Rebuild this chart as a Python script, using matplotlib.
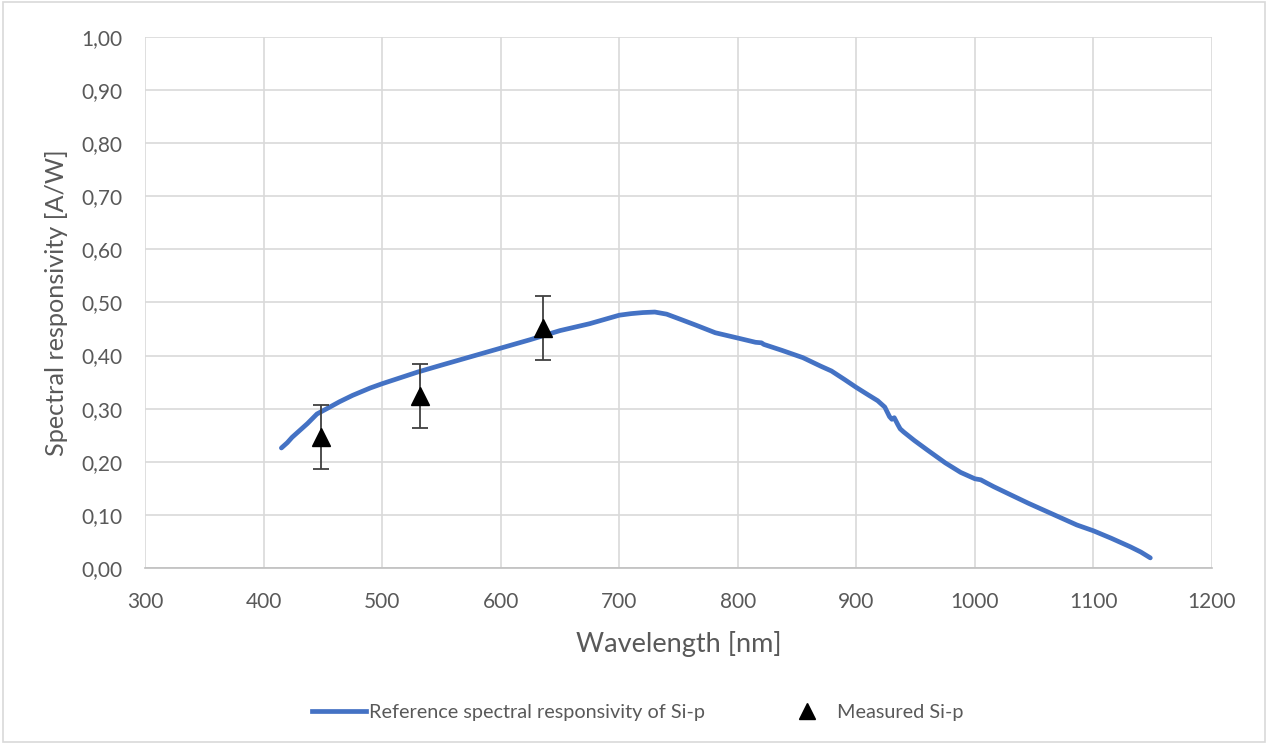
import matplotlib.pyplot as plt
import matplotlib.patches as patches
from matplotlib.lines import Line2D
from matplotlib.ticker import FuncFormatter

plt.rcParams['font.family'] = ['Lato', 'DejaVu Sans']

# reference curve
wl_ref = [415, 420, 424, 430, 437, 445, 455, 464, 475, 490, 500, 515, 530, 550,
          575, 600, 625, 650, 675, 700, 710, 720, 730, 740, 752, 765, 781, 800,
          815, 820, 822, 837, 855, 870, 879, 890, 900, 910, 918, 924, 928, 930,
          932, 935, 937, 940, 949, 960, 975, 988, 1000, 1005, 1010, 1016, 1030,
          1045, 1058, 1072, 1086, 1100, 1115, 1131, 1140, 1148]
resp_ref = [0.226, 0.236, 0.246, 0.258, 0.272, 0.290, 0.302, 0.313, 0.325, 0.339,
            0.347, 0.358, 0.369, 0.382, 0.398, 0.414, 0.430, 0.447, 0.460, 0.476,
            0.479, 0.481, 0.482, 0.478, 0.468, 0.457, 0.443, 0.433, 0.425, 0.424,
            0.421, 0.410, 0.396, 0.380, 0.371, 0.355, 0.340, 0.326, 0.315, 0.303,
            0.285, 0.280, 0.283, 0.270, 0.262, 0.256, 0.240, 0.222, 0.198, 0.180,
            0.168, 0.166, 0.160, 0.153, 0.138, 0.122, 0.109, 0.095, 0.081, 0.070,
            0.056, 0.040, 0.030, 0.019]

# measured points
wl_meas = [448, 532, 636]
resp_meas = [0.247, 0.324, 0.452]
err_meas = [0.06, 0.06, 0.06]

fig = plt.figure(figsize=(12.68, 7.44), dpi=100)
ax = fig.add_axes([0.1144, 0.2366, 0.8414, 0.7137])

ax.plot(wl_ref, resp_ref, color='#4472C4', linewidth=3.4, solid_capstyle='round',
        solid_joinstyle='round', zorder=3)
ax.errorbar(wl_meas, resp_meas, yerr=err_meas, fmt='^', color='black',
            markersize=13, ecolor='#404040', elinewidth=1.3, capsize=6,
            capthick=1.3, zorder=4)

ax.set_xlim(300, 1200)
ax.set_ylim(0, 1.0)
ax.set_xticks(range(300, 1201, 100))
ax.set_yticks([i / 10 for i in range(11)])
ax.yaxis.set_major_formatter(FuncFormatter(lambda v, p: f'{v:.2f}'.replace('.', ',')))
ax.grid(True, color='#d9d9d9', linewidth=1.2)
ax.set_axisbelow(True)
for s in ['top', 'right', 'left']:
    ax.spines[s].set_visible(False)
ax.spines['bottom'].set_color('#bfbfbf')
ax.spines['bottom'].set_linewidth(1.2)
ax.tick_params(axis='y', length=0, labelsize=15, colors='#595959', pad=16)
ax.tick_params(axis='x', length=0, labelsize=15, colors='#595959', pad=17)

ax.set_xlabel('Wavelength [nm]', fontsize=19.5, color='#595959')
ax.xaxis.set_label_coords(0.5, -0.118)
ax.set_ylabel('Spectral responsivity [A/W]', fontsize=18.2, color='#595959')
ax.yaxis.set_label_coords(-0.072, 0.5)

handles = [Line2D([], [], color='#4472C4', linewidth=3.4),
           Line2D([], [], marker='^', linestyle='none', color='black', markersize=11)]
labels = ['Reference spectral responsivity of Si-p', 'Measured Si-p']
leg = fig.legend(handles, labels, loc='center', bbox_to_anchor=(0.503, 0.043), ncol=2,
                 frameon=False, fontsize=14.3, handlelength=2.7, columnspacing=3.8,
                 handletextpad=0.15)
for t in leg.get_texts():
    t.set_color('#595959')

fig.patches.append(patches.Rectangle((0.002, 0.003), 0.996, 0.994, transform=fig.transFigure,
                                     fill=False, edgecolor='#d9d9d9', linewidth=1.2))

fig.savefig('out.png', dpi=100)
